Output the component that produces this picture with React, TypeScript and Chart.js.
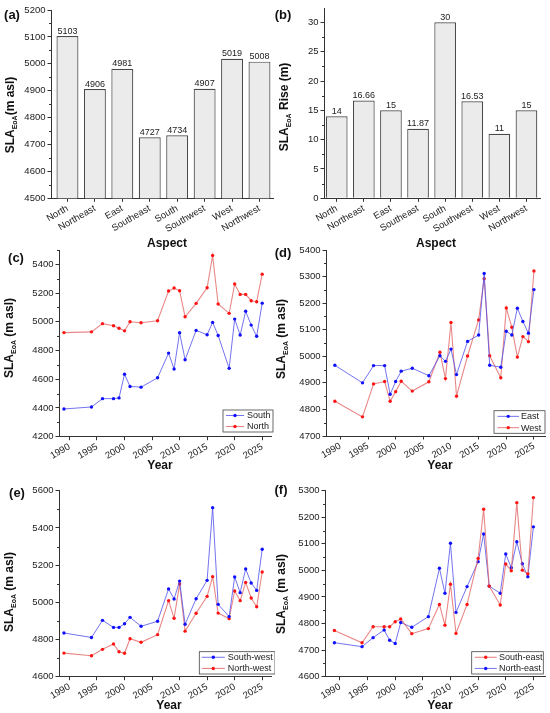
import React, { useEffect, useRef } from "react";
import { Chart, registerables } from "chart.js";

Chart.register(...registerables);

const FONT = "'Liberation Sans', Arial, Helvetica, sans-serif";
const AXIS = "#333333";
const TEXT = "#1a1a1a";

// ---------- Data: panels (a) and (b) ----------
const aspects = ["North", "Northeast", "East", "Southeast", "South", "Southwest", "West", "Northwest"];
const slaEoA = [5103, 4906, 4981, 4727, 4734, 4907, 5019, 5008];
const slaRise = [14, 16.66, 15, 11.87, 30, 16.53, 11, 15];
const ticksA = [4500, 4600, 4700, 4800, 4900, 5000, 5100, 5200];
const ticksB = [0, 5, 10, 15, 20, 25, 30];

// ---------- Data: panels (c)-(f) ----------
const years = [1989, 1994, 1996, 1998, 1999, 2000, 2001, 2003, 2006, 2008, 2009, 2010, 2011, 2013, 2015, 2016, 2017, 2019, 2020, 2021, 2022, 2023, 2024, 2025];
const yearTicks = [1990, 1995, 2000, 2005, 2010, 2015, 2020, 2025];

const south = [4393, 4407, 4465, 4465, 4470, 4635, 4550, 4545, 4610, 4782, 4671, 4924, 4736, 4940, 4910, 4996, 4905, 4676, 5019, 4908, 5073, 4977, 4899, 5130];
const north = [4925, 4930, 4987, 4973, 4955, 4937, 5000, 4993, 5007, 5214, 5235, 5216, 5035, 5128, 5237, 5462, 5124, 5059, 5263, 5191, 5191, 5147, 5140, 5332];

const east = [4966, 4900, 4965, 4965, 4857, 4905, 4944, 4955, 4927, 5002, 4981, 5027, 4931, 5056, 5080, 5312, 4966, 4959, 5094, 5080, 5181, 5131, 5087, 5251];
const west = [4831, 4772, 4896, 4905, 4831, 4867, 4906, 4869, 4904, 5015, 4916, 5127, 4850, 5001, 5137, 5292, 5002, 4919, 5182, 5109, 4997, 5074, 5055, 5321];

const southWest = [4835, 4811, 4903, 4865, 4865, 4885, 4919, 4871, 4898, 5072, 5018, 5114, 4882, 5019, 5118, 5509, 4989, 4923, 5136, 5052, 5179, 5104, 5064, 5285];
const northWest = [4727, 4713, 4747, 4776, 4734, 4726, 4804, 4785, 4826, 5009, 4914, 5098, 4845, 4941, 5032, 5138, 4942, 4912, 5061, 5009, 5107, 5023, 4976, 5163];

const southEast = [4774, 4728, 4788, 4788, 4788, 4807, 4817, 4762, 4781, 4872, 4794, 4948, 4763, 4872, 5045, 5230, 4941, 4870, 5024, 4999, 5255, 5001, 4987, 5274];
const northEast = [4728, 4713, 4747, 4776, 4737, 4725, 4804, 4786, 4826, 5008, 4914, 5102, 4842, 4939, 5033, 5137, 4941, 4914, 5062, 5010, 5108, 5025, 4976, 5164];

const ticksC = [4200, 4400, 4600, 4800, 5000, 5200, 5400];
const ticksD = [4700, 4800, 4900, 5000, 5100, 5200, 5300, 5400];
const ticksE = [4600, 4800, 5000, 5200, 5400, 5600];
const ticksF = [4600, 4700, 4800, 4900, 5000, 5100, 5200, 5300];

// ---------- Styles ----------
const BLUE_LINE = "rgba(80,80,235,0.8)";
const BLUE_PT = "#1010ff";
const RED_LINE = "rgba(225,95,95,0.75)";
const RED_PT = "#ff1414";

type Geo = { cl: number; ct: number; cw: number; ch: number; al: number; at: number; ar: number; ab: number };
type Box = { x: number; y: number; w: number; h: number; l0: number; l1: number; tx: number };

const tickFont = { family: FONT, size: 9.5 };
const tickGrid = { display: true, drawOnChartArea: false, drawTicks: true, tickLength: 3.5, tickColor: AXIS, tickWidth: 1, offset: false };
const axisBorder = { display: true, color: AXIS, width: 1 };

function pad(geo: Geo) {
  return { left: 0, top: geo.at - geo.ct, right: geo.cl + geo.cw - geo.ar, bottom: 0 };
}

function yScale(geo: Geo, min: number, max: number, ticks: number[]) {
  return {
    type: "linear",
    position: "left",
    min,
    max,
    beginAtZero: false,
    afterBuildTicks: (s: any) => {
      s.ticks = ticks.map((v) => ({ value: v }));
    },
    afterFit: (s: any) => {
      s.width = geo.al - geo.cl;
    },
    ticks: { font: tickFont, color: TEXT, padding: 2, callback: (v: any) => String(v) },
    grid: tickGrid,
    border: axisBorder,
  };
}

function minorTicksPlugin(step: number, majors: number[]) {
  return {
    id: "minorTicks",
    afterDraw(chart: any) {
      const s = chart.scales.y;
      const ctx = chart.ctx;
      ctx.save();
      ctx.strokeStyle = AXIS;
      ctx.lineWidth = 1;
      const n0 = Math.ceil(s.min / step - 1e-9);
      const n1 = Math.floor(s.max / step + 1e-9);
      for (let k = n0; k <= n1; k++) {
        const v = k * step;
        if (majors.some((m) => Math.abs(m - v) < 1e-6)) continue;
        const y = Math.round(s.getPixelForValue(v)) + 0.5;
        ctx.beginPath();
        ctx.moveTo(s.right, y);
        ctx.lineTo(s.right - 2, y);
        ctx.stroke();
      }
      ctx.restore();
    },
  };
}

function barLabelPlugin(values: number[]) {
  return {
    id: "barLabels",
    afterDatasetsDraw(chart: any) {
      const meta = chart.getDatasetMeta(0);
      const ctx = chart.ctx;
      ctx.save();
      ctx.font = `9px ${FONT}`;
      ctx.fillStyle = TEXT;
      ctx.textAlign = "center";
      ctx.textBaseline = "bottom";
      meta.data.forEach((el: any, i: number) => {
        ctx.fillText(String(values[i]), el.x, el.y - 0.5);
      });
      ctx.restore();
    },
  };
}

function legendPlugin(geo: Geo, box: Box) {
  return {
    id: "boxLegend",
    afterDraw(chart: any) {
      const ctx = chart.ctx;
      const x = box.x - geo.cl;
      const y = box.y - geo.ct;
      const ds = chart.data.datasets;
      ctx.save();
      ctx.fillStyle = "#ffffff";
      ctx.fillRect(x, y, box.w, box.h);
      ctx.strokeStyle = "#444";
      ctx.lineWidth = 0.8;
      ctx.strokeRect(x, y, box.w, box.h);
      ds.forEach((d: any, i: number) => {
        const cy = y + (box.h * (i + 0.5)) / ds.length;
        ctx.strokeStyle = d.borderColor;
        ctx.lineWidth = d.borderWidth;
        ctx.beginPath();
        ctx.moveTo(x + box.l0, cy);
        ctx.lineTo(x + box.l1, cy);
        ctx.stroke();
        ctx.fillStyle = d.pointBackgroundColor;
        ctx.beginPath();
        ctx.arc(x + (box.l0 + box.l1) / 2, cy, 1.7, 0, Math.PI * 2);
        ctx.fill();
        ctx.fillStyle = TEXT;
        ctx.font = `9px ${FONT}`;
        ctx.textAlign = "left";
        ctx.textBaseline = "middle";
        ctx.fillText(d.label, x + box.tx, cy + 0.5);
      });
      ctx.restore();
    },
  };
}

function barConfig(geo: Geo, values: number[], xmin: number, ymin: number, ymax: number, ticks: number[], minor: number) {
  return {
    type: "bar",
    data: {
      datasets: [
        {
          label: "SLA",
          data: values.map((v, i) => ({ x: i, y: v })),
          backgroundColor: "#ebebeb",
          borderColor: "#4a4a4a",
          borderWidth: 1.2,
          barPercentage: 0.8,
          categoryPercentage: 1,
        },
      ],
    },
    options: {
      animation: false,
      responsive: false,
      maintainAspectRatio: false,
      layout: { padding: pad(geo) },
      plugins: { legend: { display: false }, tooltip: { enabled: false } },
      scales: {
        x: {
          type: "linear",
          min: xmin,
          max: 7.5,
          offset: false,
          afterBuildTicks: (s: any) => {
            s.ticks = aspects.map((_, i) => ({ value: i }));
          },
          afterFit: (s: any) => {
            s.height = geo.ct + geo.ch - geo.ab;
          },
          ticks: {
            font: tickFont,
            color: TEXT,
            padding: 1,
            minRotation: 30,
            maxRotation: 30,
            autoSkip: false,
            callback: (v: any) => aspects[Math.round(v)] ?? "",
          },
          grid: tickGrid,
          border: axisBorder,
        },
        y: yScale(geo, ymin, ymax, ticks),
      },
    },
    plugins: [barLabelPlugin(values), minorTicksPlugin(minor, ticks)],
  };
}

function series(label: string, values: number[], line: string, point: string, width: number) {
  return {
    label,
    data: years.map((x, i) => ({ x, y: values[i] })),
    borderColor: line,
    backgroundColor: point,
    pointBackgroundColor: point,
    pointBorderColor: point,
    pointBorderWidth: 0,
    pointRadius: 1.7,
    pointStyle: "circle",
    borderWidth: width,
    tension: 0,
    fill: false,
  };
}

function lineConfig(
  geo: Geo,
  datasets: any[],
  xmin: number,
  xmax: number,
  ymin: number,
  ymax: number,
  ticks: number[],
  minor: number,
  box: Box
) {
  return {
    type: "line",
    data: { datasets },
    options: {
      animation: false,
      responsive: false,
      maintainAspectRatio: false,
      layout: { padding: pad(geo) },
      plugins: { legend: { display: false }, tooltip: { enabled: false } },
      scales: {
        x: {
          type: "linear",
          min: xmin,
          max: xmax,
          offset: false,
          afterBuildTicks: (s: any) => {
            s.ticks = yearTicks.map((v) => ({ value: v }));
          },
          afterFit: (s: any) => {
            s.height = geo.ct + geo.ch - geo.ab;
          },
          ticks: {
            font: tickFont,
            color: TEXT,
            padding: 1,
            minRotation: 30,
            maxRotation: 30,
            autoSkip: false,
            callback: (v: any) => String(v),
          },
          grid: tickGrid,
          border: axisBorder,
        },
        y: yScale(geo, ymin, ymax, ticks),
      },
    },
    plugins: [minorTicksPlugin(minor, ticks), legendPlugin(geo, box)],
  };
}

const geoA: Geo = { cl: 0, ct: 0, cw: 275, ch: 240, al: 51, at: 10, ar: 273.2, ab: 198.3 };
const geoB: Geo = { cl: 275, ct: 0, cw: 275, ch: 240, al: 324, at: 8.3, ar: 540, ab: 198.3 };
const geoC: Geo = { cl: 0, ct: 238, cw: 275, ch: 232, al: 59, at: 250, ar: 272, ab: 436.7 };
const geoD: Geo = { cl: 275, ct: 238, cw: 275, ch: 232, al: 326, at: 250, ar: 545, ab: 436 };
const geoE: Geo = { cl: 0, ct: 478, cw: 275, ch: 235, al: 59, at: 490.7, ar: 272, ab: 676.7 };
const geoF: Geo = { cl: 275, ct: 478, cw: 275, ch: 235, al: 325, at: 490.7, ar: 545, ab: 676.7 };

const panels = [
  { id: "a", geo: geoA, make: () => barConfig(geoA, slaEoA, -0.6, 4500, 5200, ticksA, 50) },
  { id: "b", geo: geoB, make: () => barConfig(geoB, slaRise, -0.47, 0, 32.4, ticksB, 2.5) },
  {
    id: "c",
    geo: geoC,
    make: () =>
      lineConfig(
        geoC,
        [series("South", south, BLUE_LINE, BLUE_PT, 1), series("North", north, RED_LINE, RED_PT, 1.1)],
        1988.1,
        2026.6,
        4200,
        5500,
        ticksC,
        100,
        { x: 223, y: 410, w: 50, h: 22, l0: 3, l1: 21, tx: 24 }
      ),
  },
  {
    id: "d",
    geo: geoD,
    make: () =>
      lineConfig(
        geoD,
        [series("East", east, BLUE_LINE, BLUE_PT, 1), series("West", west, RED_LINE, RED_PT, 1.1)],
        1987.4,
        2027.0,
        4700,
        5400,
        ticksD,
        50,
        { x: 494, y: 410.7, w: 51, h: 22.6, l0: 3.5, l1: 25, tx: 27 }
      ),
  },
  {
    id: "e",
    geo: geoE,
    make: () =>
      lineConfig(
        geoE,
        [series("South-west", southWest, BLUE_LINE, BLUE_PT, 1), series("North-west", northWest, RED_LINE, RED_PT, 1.1)],
        1988.1,
        2026.6,
        4600,
        5600,
        ticksE,
        100,
        { x: 199.3, y: 651.7, w: 75.7, h: 22.3, l0: 2.5, l1: 25.5, tx: 28.4 }
      ),
  },
  {
    id: "f",
    geo: geoF,
    make: () =>
      lineConfig(
        geoF,
        [series("South-east", southEast, RED_LINE, RED_PT, 1.1), series("North-east", northEast, BLUE_LINE, BLUE_PT, 1)],
        1987.3,
        2027.1,
        4600,
        5300,
        ticksF,
        50,
        { x: 471.7, y: 651.7, w: 71.6, h: 22.3, l0: 3, l1: 25, tx: 27.3 }
      ),
  },
];

function ChartCanvas({ geo, make }: { geo: Geo; make: () => any }) {
  const ref = useRef<HTMLCanvasElement>(null);
  useEffect(() => {
    if (!ref.current) return;
    const chart = new Chart(ref.current, make());
    return () => chart.destroy();
  }, []);
  return (
    <canvas
      ref={ref}
      width={geo.cw}
      height={geo.ch}
      style={{ position: "absolute", left: geo.cl, top: geo.ct, width: geo.cw, height: geo.ch }}
    />
  );
}

function Txt({ x, y, size, children, rotate }: { x: number; y: number; size: number; children: any; rotate?: boolean }) {
  return (
    <div
      style={{
        position: "absolute",
        left: x,
        top: y,
        transform: rotate ? "translate(-50%,-50%) rotate(-90deg)" : "translate(-50%,-50%)",
        whiteSpace: "nowrap",
        fontWeight: "bold",
        fontSize: size,
        lineHeight: `${size + 2}px`,
        fontFamily: FONT,
        color: "#111",
      }}
    >
      {children}
    </div>
  );
}

function Sub() {
  return <span style={{ fontSize: 7, position: "relative", top: 3 }}>EoA</span>;
}

export default function App() {
  return (
    <div
      style={{
        position: "absolute",
        left: 0,
        top: 0,
        width: 550,
        height: 713,
        background: "#ffffff",
        overflow: "hidden",
        fontFamily: FONT,
      }}
    >
      {panels.map((p) => (
        <ChartCanvas key={p.id} geo={p.geo} make={p.make} />
      ))}
      <Txt x={12} y={14} size={13}>(a)</Txt>
      <Txt x={283} y={14} size={13}>(b)</Txt>
      <Txt x={16} y={257} size={13}>(c)</Txt>
      <Txt x={283} y={252} size={13}>(d)</Txt>
      <Txt x={17} y={492} size={13}>(e)</Txt>
      <Txt x={281} y={489} size={13}>(f)</Txt>

      <Txt x={10.5} y={115} size={12} rotate>
        SLA<Sub />(m asl)
      </Txt>
      <Txt x={285} y={106.7} size={12} rotate>
        SLA<Sub /> Rise (m)
      </Txt>
      <Txt x={10} y={337.5} size={12} rotate>
        SLA<Sub /> (m asl)
      </Txt>
      <Txt x={282} y={339} size={12} rotate>
        SLA<Sub /> (m asl)
      </Txt>
      <Txt x={10} y={592} size={12} rotate>
        SLA<Sub /> (m asl)
      </Txt>
      <Txt x={282} y={594} size={12} rotate>
        SLA<Sub /> (m asl)
      </Txt>

      <Txt x={167} y={243} size={12}>Aspect</Txt>
      <Txt x={436} y={243} size={12}>Aspect</Txt>
      <Txt x={160} y={465} size={12}>Year</Txt>
      <Txt x={440} y={465} size={12}>Year</Txt>
      <Txt x={169} y={705} size={12}>Year</Txt>
      <Txt x={440} y={705} size={12}>Year</Txt>
    </div>
  );
}
